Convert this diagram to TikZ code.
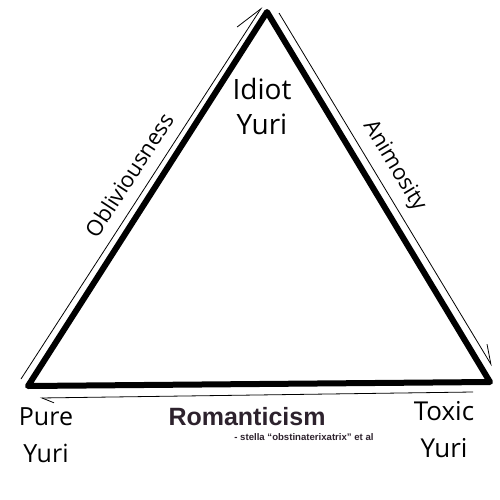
\documentclass[tikz,border=0pt]{standalone}
\usepackage{fontspec}
\setmainfont{Open Sans}
\newfontfamily\romfont{Liberation Sans}
\usetikzlibrary{arrows.meta}
\definecolor{romcol}{RGB}{45,34,45}

\begin{document}
\begin{tikzpicture}[x=1pt,y=-1pt,
	side/.style={line width=6pt,line join=round},
	hint/.style={line width=0.8pt},
	corner/.style={font=\fontsize{25}{37}\selectfont,align=center},
	axis/.style={font=\fontsize{22}{26}\selectfont}]
	\useasboundingbox (0,0) rectangle (500,500);
	\coordinate (top) at (267,12); %idiot
	\coordinate (pure) at (28,386); %pure
	\coordinate (toxic) at (490,382); %toxic
	\draw[side] (top) -- (pure) -- (toxic) -- cycle;
	\coordinate (o1) at (21,379); \coordinate (o2) at (262,7);
	\coordinate (a1) at (279,13); \coordinate (a2) at (492,366);
	\coordinate (r1) at (473,392); \coordinate (r2) at (40,398);
	\draw[hint,-{Straight Barb[left,length=28pt,width=20pt]}] (o1) -- (o2); %obliviousness
	\draw[hint,-{Straight Barb[left,length=19pt,width=14pt]}] (a1) -- (a2); %animosity
	\draw[hint,-{Straight Barb[left,length=12pt,width=10pt]}] (r1) -- (r2); %romanticism
	\node[corner,font=\fontsize{28}{35}\selectfont] (idiot) at (262,107) {Idiot\\Yuri};
	\node[corner] (pureyuri) at (46,435) {Pure\\Yuri};
	\node[corner,font=\fontsize{26}{37}\selectfont] (toxicyuri) at (444,430) {Toxic\\Yuri};
	\node[axis,rotate=57] (obl) at (129,175) {Obliviousness};
	\node[axis,rotate=-59] (anim) at (394,166) {Animosity};
	\node[font=\romfont\bfseries\fontsize{25}{30}\selectfont,text=romcol] (rom) at (247,417) {Romanticism};
	\node[font=\romfont\bfseries\fontsize{9.6}{11}\selectfont,text=romcol,anchor=base] (credit) at (304,440) {- stella “obstinaterixatrix” et al};
\end{tikzpicture}
\end{document}
